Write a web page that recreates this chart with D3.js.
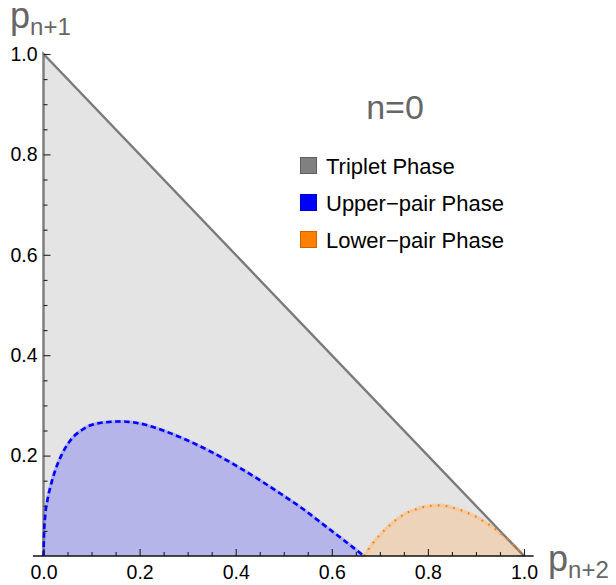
<!DOCTYPE html>
<html>
<head>
<meta charset="utf-8">
<script src="https://cdn.jsdelivr.net/npm/d3@7"></script>
<style>
  body { margin: 0; background: #fff; }
  text { font-family: "Liberation Sans", Arial, sans-serif; }
</style>
</head>
<body>
<div id="chart"></div>
<script>
// region corners (p_{n+2}, p_{n+1})
let triangleX = [0, 0, 1];
let triangleY = [0, 1, 0];

// upper-pair boundary
let upperX = [0, 0.001, 0.003, 0.008, 0.015, 0.025, 0.037, 0.055, 0.083, 0.111, 0.159, 0.201, 0.249, 0.298, 0.350, 0.399, 0.447, 0.492, 0.541, 0.586, 0.631, 0.667];
let upperY = [0, 0.040, 0.075, 0.110, 0.140, 0.172, 0.200, 0.229, 0.253, 0.264, 0.268, 0.264, 0.250, 0.231, 0.207, 0.181, 0.153, 0.125, 0.093, 0.060, 0.027, 0];

// lower-pair boundary
let lowerX = [0.667, 0.677, 0.688, 0.699, 0.711, 0.725, 0.738, 0.754, 0.770, 0.787, 0.804, 0.820, 0.839, 0.856, 0.872, 0.889, 0.905, 0.919, 0.934, 0.948, 0.962, 0.974, 0.987, 1.0];
let lowerY = [0, 0.014, 0.0285, 0.041, 0.0526, 0.0651, 0.0751, 0.0851, 0.091, 0.097, 0.0996, 0.101, 0.0996, 0.095, 0.0902, 0.0831, 0.0757, 0.0671, 0.0584, 0.0472, 0.0365, 0.0253, 0.0133, 0];

let majorTicks = [0, 0.2, 0.4, 0.6, 0.8, 1.0];
let minorTicks = [0.05, 0.1, 0.15, 0.25, 0.3, 0.35, 0.45, 0.5, 0.55, 0.65, 0.7, 0.75, 0.85, 0.9, 0.95];
let tickLabels = ["0.0", "0.2", "0.4", "0.6", "0.8", "1.0"];

let legendLabels = ["Triplet Phase", "Upper\u2212pair Phase", "Lower\u2212pair Phase"];
let legendFill = ["#808080", "#0000ff", "#ff8000"];
let legendStroke = ["#5e5e5e", "#0000c8", "#c86400"];
let panelTitle = "n=0";

let width = 616, height = 585;

let svg = d3.select("#chart")
    .append("svg")
    .attr("width", width)
    .attr("height", height);

let x = d3.scaleLinear().domain([0, 1]).range([43.5, 524]);
let y = d3.scaleLinear().domain([0, 1]).range([556, 54]);

let tri = triangleX.map(function (d, i) { return [d, triangleY[i]]; });
let upper = upperX.map(function (d, i) { return [d, upperY[i]]; });
let lower = lowerX.map(function (d, i) { return [d, lowerY[i]]; });

let area = d3.area()
    .x(function (d) { return x(d[0]); })
    .y0(y(0))
    .y1(function (d) { return y(d[1]); })
    .curve(d3.curveMonotoneX);

let line = d3.line()
    .x(function (d) { return x(d[0]); })
    .y(function (d) { return y(d[1]); })
    .curve(d3.curveMonotoneX);

let straight = d3.line()
    .x(function (d) { return x(d[0]); })
    .y(function (d) { return y(d[1]); });

// triplet region
svg.append("path")
    .attr("d", straight(tri) + "Z")
    .attr("fill", "#e4e4e4");

// upper pair
svg.append("path").attr("d", area(upper)).attr("fill", "#b5b5e9");
svg.append("path").attr("d", line(upper))
    .attr("fill", "none").attr("stroke", "#9c9cf0").attr("stroke-width", 3.5).attr("opacity", 0.6);

// lower pair
svg.append("path").attr("d", area(lower)).attr("fill", "#edd3b9");
svg.append("path").attr("d", line(lower))
    .attr("fill", "none").attr("stroke", "#f5c08a").attr("stroke-width", 3.5).attr("opacity", 0.6);

// triangle edges (left and diagonal)
svg.append("path")
    .attr("d", straight(tri))
    .attr("fill", "none")
    .attr("stroke", "#7b7b7b")
    .attr("stroke-width", 2.4);

// boundary curves
svg.append("path").attr("d", line(upper))
    .attr("fill", "none").attr("stroke", "#0000ff").attr("stroke-width", 2.6)
    .attr("stroke-dasharray", "5.5,3.5");

svg.append("path").attr("d", line(lower))
    .attr("fill", "none").attr("stroke", "#ff8000").attr("stroke-width", 2.2)
    .attr("stroke-dasharray", "1.6,6.2");

// axes
let xAxis = svg.append("g")
    .attr("transform", "translate(0," + y(0) + ")")
    .call(d3.axisBottom(x).tickValues(majorTicks).tickSize(-7).tickPadding(9)
        .tickFormat(function (d, i) { return tickLabels[i]; }));
svg.append("g")
    .attr("transform", "translate(0," + y(0) + ")")
    .call(d3.axisBottom(x).tickValues(minorTicks).tickSize(-4).tickFormat(""))
    .select(".domain").remove();
xAxis.select(".domain").remove();

let yAxis = svg.append("g")
    .attr("transform", "translate(" + x(0) + ",0)")
    .call(d3.axisLeft(y).tickValues(majorTicks.slice(1)).tickSize(-7).tickPadding(6)
        .tickFormat(function (d, i) { return tickLabels[i + 1]; }));
svg.append("g")
    .attr("transform", "translate(" + x(0) + ",0)")
    .call(d3.axisLeft(y).tickValues(minorTicks).tickSize(-4).tickFormat(""))
    .select(".domain").remove();
yAxis.select(".domain").remove();

svg.selectAll(".tick line").attr("stroke", "#222").attr("stroke-width", 1.1);
svg.selectAll(".tick text").attr("font-size", "19.5px").attr("fill", "#000")
    .style("font-family", "'Liberation Sans', Arial, sans-serif");

svg.append("line")
    .attr("x1", x(-0.022)).attr("x2", x(1.02))
    .attr("y1", y(0)).attr("y2", y(0))
    .attr("stroke", "#111").attr("stroke-width", 1.5);

// axis labels
let topLabel = svg.append("text").attr("x", 10).attr("y", 28).attr("fill", "#666");
topLabel.append("tspan").attr("font-size", "36px").text("p");
topLabel.append("tspan").attr("font-size", "24px").attr("dy", 7).text("n+1");

let bottomLabel = svg.append("text").attr("x", 548).attr("y", 571).attr("fill", "#666");
bottomLabel.append("tspan").attr("font-size", "36px").text("p");
bottomLabel.append("tspan").attr("font-size", "24px").attr("dy", 7).text("n+2");

// title
svg.append("text")
    .attr("x", 395).attr("y", 119)
    .attr("text-anchor", "middle")
    .attr("font-size", "34px")
    .attr("fill", "#666")
    .text(panelTitle);

// legend
let legend = svg.append("g").attr("transform", "translate(300,0)");
legendLabels.forEach(function (lab, i) {
    let cy = 165.5 + i * 37;
    legend.append("rect")
        .attr("x", 0.5).attr("y", cy - 8)
        .attr("width", 16).attr("height", 16)
        .attr("fill", legendFill[i])
        .attr("stroke", legendStroke[i])
        .attr("stroke-width", 1);
    legend.append("text")
        .attr("x", 26).attr("y", cy + 8)
        .attr("font-size", "22px")
        .attr("fill", "#000")
        .text(lab);
});
</script>
</body>
</html>
